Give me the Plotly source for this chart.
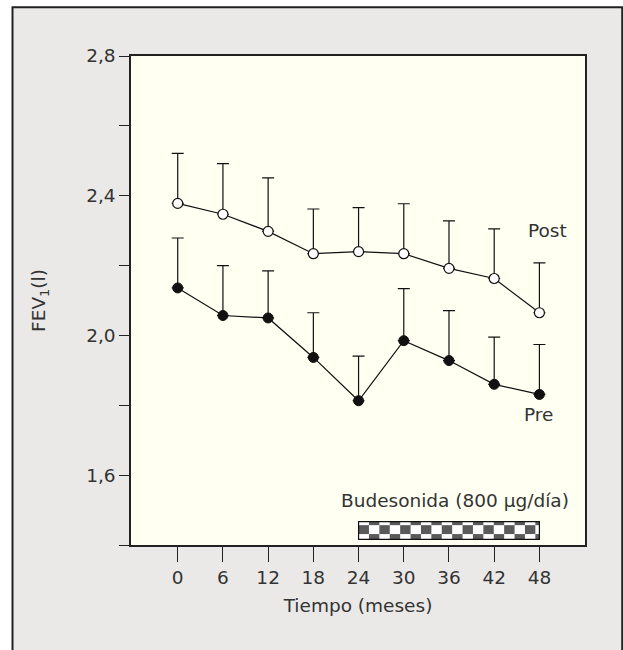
import plotly.graph_objects as go

months = [0, 6, 12, 18, 24, 30, 36, 42, 48]
post_mean = [2.378, 2.347, 2.298, 2.234, 2.240, 2.234, 2.192, 2.163, 2.065]
post_err = [0.143, 0.145, 0.153, 0.128, 0.126, 0.143, 0.136, 0.142, 0.143]
pre_mean = [2.136, 2.057, 2.050, 1.937, 1.813, 1.985, 1.928, 1.860, 1.831]
pre_err = [0.143, 0.143, 0.135, 0.128, 0.128, 0.149, 0.143, 0.135, 0.143]

ytick_vals = [1.6, 2.0, 2.4, 2.8]
ytick_text = ["1,6", "2,0", "2,4", "2,8"]

treat_start, treat_end = 24, 48
treat_label = "Budesonida (800 \u00b5g/día)"

FONT = "DejaVu Sans, Liberation Sans, sans-serif"
TXT = "#333333"
FS = 18.5

fig = go.Figure()

fig.add_trace(go.Scatter(
    x=months, y=post_mean, mode="lines+markers", name="Post",
    line=dict(color="#111", width=1.2),
    marker=dict(symbol="circle", size=10, color="white", line=dict(color="#111", width=1.2)),
    error_y=dict(type="data", array=post_err, arrayminus=[0]*len(post_err), symmetric=False,
                 color="#111", thickness=1.2, width=6),
    showlegend=False, cliponaxis=False))
fig.add_trace(go.Scatter(
    x=months, y=pre_mean, mode="lines+markers", name="Pre",
    line=dict(color="#111", width=1.2),
    marker=dict(symbol="circle", size=10, color="#111", line=dict(color="#111", width=1)),
    error_y=dict(type="data", array=pre_err, arrayminus=[0]*len(pre_err), symmetric=False,
                 color="#111", thickness=1.2, width=6),
    showlegend=False, cliponaxis=False))

shapes = []
# outer frame (page background)
shapes.append(dict(type="rect", xref="paper", yref="paper", x0=-0.261, x1=1.082, y0=-0.4, y1=1.0996,
                   fillcolor="#EAE9E7", line=dict(color="#222", width=2), layer="below"))
# cream plotting area
shapes.append(dict(type="rect", xref="paper", yref="paper", x0=0, x1=1, y0=0, y1=1,
                   fillcolor="#FFFFF2", line=dict(width=0), layer="below"))

# checkered treatment bar
yb0, yb1 = 1.416, 1.467
h = yb1 - yb0
rows = [(yb1 - 0.2 * h, yb1, 1), (yb0 + 0.3 * h, yb1 - 0.2 * h, 0), (yb0, yb0 + 0.3 * h, 1)]
cell = 1.38
shapes.append(dict(type="rect", xref="x", yref="y", x0=treat_start, x1=treat_end, y0=yb0, y1=yb1,
                   fillcolor="white", line=dict(width=0), layer="above"))
for (r0, r1, parity) in rows:
    k = 0
    while treat_start + k * cell < treat_end:
        if k % 2 == parity:
            x0 = treat_start + k * cell
            x1 = min(x0 + cell, treat_end)
            shapes.append(dict(type="rect", xref="x", yref="y", x0=x0, x1=x1, y0=r0, y1=r1,
                               fillcolor="#5a5a5a", line=dict(width=0), layer="above"))
        k += 1
shapes.append(dict(type="rect", xref="x", yref="y", x0=treat_start, x1=treat_end, y0=yb0, y1=yb1,
                   fillcolor="rgba(0,0,0,0)", line=dict(color="#111", width=1.2), layer="above"))

annotations = [
    dict(x=49.1, y=2.299, xref="x", yref="y", text="Post", showarrow=False,
         font=dict(size=FS, color=TXT, family=FONT)),
    dict(x=47.9, y=1.773, xref="x", yref="y", text="Pre", showarrow=False,
         font=dict(size=FS, color=TXT, family=FONT)),
    dict(x=36.8, y=1.528, xref="x", yref="y", text=treat_label, showarrow=False,
         font=dict(size=FS, color=TXT, family=FONT)),
]

fig.update_layout(
    width=623, height=650,
    margin=dict(l=130.5, r=38.3, t=55.7, b=105.3),
    paper_bgcolor="white", plot_bgcolor="rgba(0,0,0,0)",
    font=dict(family=FONT, size=FS, color=TXT),
    shapes=shapes, annotations=annotations,
    xaxis=dict(range=[-6.2, 54.05], tickvals=months, ticktext=[str(m) for m in months],
               ticks="outside", ticklen=15, tickwidth=1.3, tickcolor="#222",
               showline=True, linecolor="#222", linewidth=1.5, mirror=True,
               showgrid=False, zeroline=False,
               title=dict(text="Tiempo (meses)", standoff=12, font=dict(size=FS))),
    yaxis=dict(range=[1.4, 2.8], tickvals=ytick_vals, ticktext=ytick_text,
               ticks="outside", ticklen=10, tickwidth=1.3, tickcolor="#222",
               minor=dict(tick0=1.4, dtick=0.2, ticks="outside", ticklen=10,
                          tickwidth=1.3, tickcolor="#222", showgrid=False),
               showline=True, linecolor="#222", linewidth=1.5, mirror=True,
               showgrid=False, zeroline=False,
               title=dict(text="FEV<sub>1</sub>(l)", standoff=36, font=dict(size=FS))),
)

fig.write_html("out.html", config={"displayModeBar": False},
               post_script="document.documentElement.style.overflow='hidden';"
                           "document.body.style.margin='0';document.body.style.overflow='hidden';")
